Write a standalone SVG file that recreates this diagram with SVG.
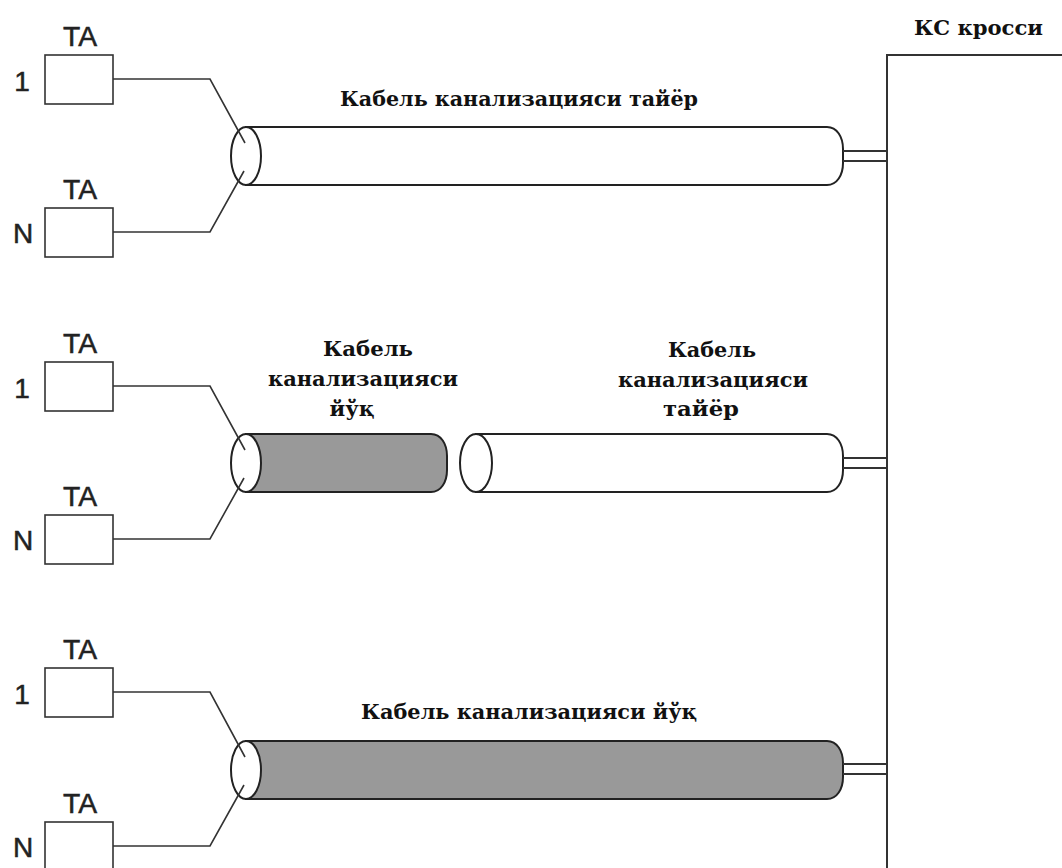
<svg xmlns="http://www.w3.org/2000/svg" width="1062" height="868" viewBox="0 0 1062 868">
<style>
.box{fill:#fff;stroke:#333;stroke-width:1.6}
.wire{fill:none;stroke:#333;stroke-width:1.6}
.body-w{fill:#fff;stroke:#222;stroke-width:2}
.body-d{fill:#999;stroke:#222;stroke-width:2}
.face{fill:#fff;stroke:#222;stroke-width:2}
.dbl{fill:none;stroke:#333;stroke-width:1.8}
.frame{fill:#fff;stroke:#333;stroke-width:2}
.sans{font-family:"Liberation Sans",Arial,sans-serif;font-size:28px;fill:#222;stroke:#222;stroke-width:0.5}
.ser{font-family:"DejaVu Serif","Liberation Serif",serif;font-weight:bold;font-size:20.5px;fill:#111}
</style>
<rect x="0" y="0" width="1062" height="868" fill="#fff"/>

<g id="ks-cross">
  <rect class="frame" x="887" y="55" width="200" height="840"/>
  <text class="ser" x="914" y="35" textLength="129" lengthAdjust="spacingAndGlyphs">КС кросси</text>
</g>

<!-- Section 1 -->
<g id="ta1-1">
  <rect class="box" x="45" y="55" width="68" height="49"/>
  <text class="sans" x="80" y="46" text-anchor="middle" textLength="34" lengthAdjust="spacingAndGlyphs">TA</text>
  <text class="sans" x="22" y="91" text-anchor="middle">1</text>
</g>
<g id="ta1-n">
  <rect class="box" x="45" y="208" width="68" height="49"/>
  <text class="sans" x="80" y="199" text-anchor="middle" textLength="34" lengthAdjust="spacingAndGlyphs">TA</text>
  <text class="sans" x="23" y="243" text-anchor="middle">N</text>
</g>
<g id="cable1">
  <path class="body-w" d="M246,127 H827 C837,127 843,137 843,149 V163 C843,175 837,185 827,185 H246 Z"/>
  <ellipse class="face" cx="246" cy="156" rx="15" ry="29"/>
  <text class="ser" x="340" y="106" textLength="358" lengthAdjust="spacingAndGlyphs">Кабель канализацияси тайёр</text>
</g>

<!-- Section 2 -->
<g id="ta2-1">
  <rect class="box" x="45" y="362" width="68" height="49"/>
  <text class="sans" x="80" y="353" text-anchor="middle" textLength="34" lengthAdjust="spacingAndGlyphs">TA</text>
  <text class="sans" x="22" y="398" text-anchor="middle">1</text>
</g>
<g id="ta2-n">
  <rect class="box" x="45" y="515" width="68" height="49"/>
  <text class="sans" x="80" y="506" text-anchor="middle" textLength="34" lengthAdjust="spacingAndGlyphs">TA</text>
  <text class="sans" x="23" y="550" text-anchor="middle">N</text>
</g>
<g id="cable2-dark">
  <path class="body-d" d="M246,434 H431 C441,434 447,444 447,456 V470 C447,482 441,492 431,492 H246 Z"/>
  <ellipse class="face" cx="246" cy="463" rx="15" ry="29"/>
  <text class="ser" x="368" y="356" text-anchor="middle" textLength="90" lengthAdjust="spacingAndGlyphs">Кабель</text>
  <text class="ser" x="363" y="386" text-anchor="middle" textLength="190" lengthAdjust="spacingAndGlyphs">канализацияси</text>
  <text class="ser" x="352" y="416" text-anchor="middle" textLength="45" lengthAdjust="spacingAndGlyphs">йўқ</text>
</g>
<g id="cable2-white">
  <path class="body-w" d="M476,434 H827 C837,434 843,444 843,456 V470 C843,482 837,492 827,492 H476 Z"/>
  <ellipse class="face" cx="476" cy="463" rx="16" ry="29"/>
  <text class="ser" x="712" y="357" text-anchor="middle" textLength="88" lengthAdjust="spacingAndGlyphs">Кабель</text>
  <text class="ser" x="713" y="387" text-anchor="middle" textLength="190" lengthAdjust="spacingAndGlyphs">канализацияси</text>
  <text class="ser" x="701" y="416" text-anchor="middle" textLength="76" lengthAdjust="spacingAndGlyphs">тайёр</text>
</g>

<!-- Section 3 -->
<g id="ta3-1">
  <rect class="box" x="45" y="668" width="68" height="49"/>
  <text class="sans" x="80" y="659" text-anchor="middle" textLength="34" lengthAdjust="spacingAndGlyphs">TA</text>
  <text class="sans" x="22" y="704" text-anchor="middle">1</text>
</g>
<g id="ta3-n">
  <rect class="box" x="45" y="822" width="68" height="49"/>
  <text class="sans" x="80" y="813" text-anchor="middle" textLength="34" lengthAdjust="spacingAndGlyphs">TA</text>
  <text class="sans" x="23" y="857" text-anchor="middle">N</text>
</g>
<g id="cable3">
  <path class="body-d" d="M246,741 H827 C837,741 843,751 843,763 V777 C843,789 837,799 827,799 H246 Z"/>
  <ellipse class="face" cx="246" cy="770" rx="15" ry="29"/>
  <text class="ser" x="361" y="719" textLength="336" lengthAdjust="spacingAndGlyphs">Кабель канализацияси йўқ</text>
</g>

<g id="connectors">
  <path class="wire" d="M113,79 H210 L245,143"/>
  <path class="wire" d="M113,232 H210 L244,171"/>
  <path class="wire" d="M113,386 H210 L245,450"/>
  <path class="wire" d="M113,539 H210 L244,478"/>
  <path class="wire" d="M113,692 H210 L245,757"/>
  <path class="wire" d="M113,846 H210 L244,785"/>
  <path class="dbl" d="M843,151 H887 M843,161 H887"/>
  <path class="dbl" d="M843,458 H887 M843,468 H887"/>
  <path class="dbl" d="M843,764 H887 M843,774 H887"/>
</g>
</svg>
